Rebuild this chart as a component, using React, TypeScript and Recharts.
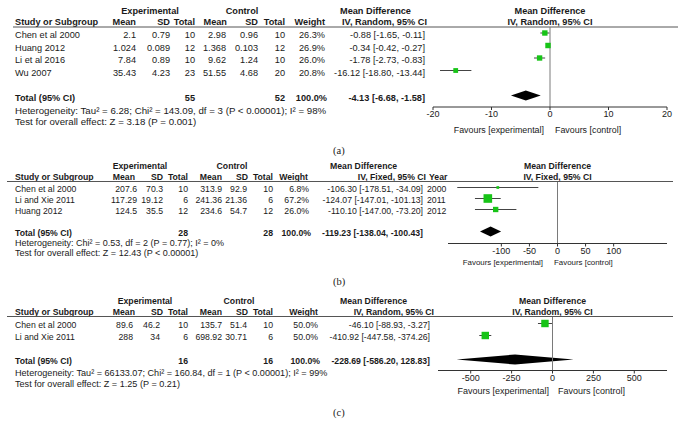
import React from "react";
import {
  ScatterChart,
  Scatter,
  XAxis,
  YAxis,
  ErrorBar,
  ReferenceLine,
  ReferenceArea,
} from "recharts";

const FONT = "'Liberation Sans', Arial, Helvetica, sans-serif";
const SERIF = "'Liberation Serif', 'Times New Roman', serif";
const GREEN = "#17c417";

// ---- panel (a) ----
const studiesA = ["Chen et al 2000", "Huang 2012", "Li et al 2016", "Wu 2007"];
const expMeanA = ["2.1", "1.024", "7.84", "35.43"];
const expSdA = ["0.79", "0.089", "0.89", "4.23"];
const expNA = [10, 12, 10, 23];
const ctlMeanA = ["2.98", "1.368", "9.62", "51.55"];
const ctlSdA = ["0.96", "0.103", "1.24", "4.68"];
const ctlNA = [10, 12, 10, 20];
const weightA = [26.3, 26.9, 26.0, 20.8];
const mdA = [-0.88, -0.34, -1.78, -16.12];
const loA = [-1.65, -0.42, -2.73, -18.8];
const hiA = [-0.11, -0.27, -0.83, -13.44];
const totalA = [-4.13, -6.68, -1.58];
const totalNA = [55, 52];
const hetA = "Heterogeneity: Tau² = 6.28; Chi² = 143.09, df = 3 (P < 0.00001); I² = 98%";
const testA = "Test for overall effect: Z = 3.18 (P = 0.001)";
const ticksA = [-20, -10, 0, 10, 20];

// ---- panel (b) ----
const studiesB = ["Chen et al 2000", "Li and Xie 2011", "Huang 2012"];
const expMeanB = ["207.6", "117.29", "124.5"];
const expSdB = ["70.3", "19.12", "35.5"];
const expNB = [10, 6, 12];
const ctlMeanB = ["313.9", "241.36", "234.6"];
const ctlSdB = ["92.9", "21.36", "54.7"];
const ctlNB = [10, 6, 12];
const weightB = [6.8, 67.2, 26.0];
const mdB = [-106.3, -124.07, -110.1];
const loB = [-178.51, -147.01, -147.0];
const hiB = [-34.09, -101.13, -73.2];
const yearsB = ["2000", "2011", "2012"];
const totalB = [-119.23, -138.04, -100.43];
const totalNB = [28, 28];
const hetB = "Heterogeneity: Chi² = 0.53, df = 2 (P = 0.77); I² = 0%";
const testB = "Test for overall effect: Z = 12.43 (P < 0.00001)";
const ticksB = [-100, -50, 0, 50, 100];

// ---- panel (c) ----
const studiesC = ["Chen et al 2000", "Li and Xie 2011"];
const expMeanC = ["89.6", "288"];
const expSdC = ["46.2", "34"];
const expNC = [10, 6];
const ctlMeanC = ["135.7", "698.92"];
const ctlSdC = ["51.4", "30.71"];
const ctlNC = [10, 6];
const weightC = [50.0, 50.0];
const mdC = [-46.1, -410.92];
const loC = [-88.93, -447.58];
const hiC = [-3.27, -374.26];
const totalC = [-228.69, -586.2, 128.83];
const totalNC = [16, 16];
const hetC = "Heterogeneity: Tau² = 66133.07; Chi² = 160.84, df = 1 (P < 0.00001); I² = 99%";
const testC = "Test for overall effect: Z = 1.25 (P = 0.21)";
const ticksC = [-500, -250, 0, 250, 500];

const panels = [
  {
    label: "(a)", labelY: 150, fs: 9.2, noteFs: 9.7, favFs: 8.9,
    line: 27, lineX: [13, 678], row0: 33, step: 12.5, totalRow: 5,
    hetY: 110, testY: 121, favY: 130, favExpEnd: 544, favCtlStart: 555,
    cols: [136, 170, 195, 226, 258, 285, 325, 425],
    heads: [136, 170, 195, 227, 258, 285, 325],
    expCenter: 150, ctlCenter: 242, mdHeadX: 340, ivEnd: 427,
    method: "IV, Random, 95% CI",
    plot: { left: 433, right: 667, axisY: 107, domain: [-20, 20], ticks: ticksA },
    studies: studiesA, expMean: expMeanA, expSd: expSdA, expN: expNA,
    ctlMean: ctlMeanA, ctlSd: ctlSdA, ctlN: ctlNA, weight: weightA,
    md: mdA, lo: loA, hi: hiA, total: totalA, totalN: totalNA,
    het: hetA, test: testA, years: null as string[] | null,
  },
  {
    label: "(b)", labelY: 281, fs: 8.7, noteFs: 9.0, favFs: 7.9,
    line: 181.5, lineX: [7, 673], row0: 187, step: 11, totalRow: 4,
    hetY: 243, testY: 253, favY: 262, favExpEnd: 543, favCtlStart: 554,
    cols: [137, 163, 188, 222, 247, 273, 309, 423],
    heads: [135, 163, 188, 222, 248, 273, 308],
    expCenter: 140, ctlCenter: 232, mdHeadX: 330, ivEnd: 426,
    method: "IV, Fixed, 95% CI",
    plot: { left: 448, right: 667, axisY: 243, domain: [-195, 195], ticks: ticksB },
    studies: studiesB, expMean: expMeanB, expSd: expSdB, expN: expNB,
    ctlMean: ctlMeanB, ctlSd: ctlSdB, ctlN: ctlNB, weight: weightB,
    md: mdB, lo: loB, hi: hiB, total: totalB, totalN: totalNB,
    het: hetB, test: testB, years: yearsB as string[] | null,
  },
  {
    label: "(c)", labelY: 412, fs: 8.7, noteFs: 9.1, favFs: 9,
    line: 316.5, lineX: [7, 673], row0: 323, step: 12, totalRow: 3,
    hetY: 373, testY: 384, favY: 391, favExpEnd: 549, favCtlStart: 558,
    cols: [133, 160, 188, 222, 247, 273, 318, 430],
    heads: [135, 163, 188, 222, 248, 273, 318],
    expCenter: 145, ctlCenter: 239, mdHeadX: 340, ivEnd: 434,
    method: "IV, Random, 95% CI",
    plot: { left: 438, right: 667, axisY: 370, domain: [-700, 700], ticks: ticksC },
    studies: studiesC, expMean: expMeanC, expSd: expSdC, expN: expNC,
    ctlMean: ctlMeanC, ctlSd: ctlSdC, ctlN: ctlNC, weight: weightC,
    md: mdC, lo: loC, hi: hiC, total: totalC, totalN: totalNC,
    het: hetC, test: testC, years: null as string[] | null,
  },
];

type Panel = (typeof panels)[number];

const ci = (m: number, l: number, h: number) =>
  `${m.toFixed(2)} [${l.toFixed(2)}, ${h.toFixed(2)}]`;

const Box = (p: any) => {
  const s = p.payload.side;
  return <rect x={p.cx - s / 2} y={p.cy - s / 2} width={s} height={s} fill={GREEN} />;
};

const Diamond = (p: any) => {
  const x = Math.min(p.x, p.x + p.width);
  const y = Math.min(p.y, p.y + p.height);
  const w = Math.abs(p.width);
  const h = Math.abs(p.height);
  const pts = `${x},${y + h / 2} ${x + w / 2},${y} ${x + w},${y + h / 2} ${x + w / 2},${y + h}`;
  return <polygon points={pts} fill="#000" />;
};

function Table({ p }: { p: Panel }) {
  const t = (x: number, y: number, s: string, anchor = "end", bold = false, fs = p.fs) => (
    <text
      x={x}
      y={y}
      textAnchor={anchor as any}
      dominantBaseline="central"
      fontSize={fs}
      fontWeight={bold ? "bold" : "normal"}
      fill="#1a1a1a"
    >
      {s}
    </text>
  );
  const h1 = p.line - 16;
  const h2 = p.line - 5;
  const zero = (p.plot.left + p.plot.right) / 2;
  const [c0, c1, c2, c3, c4, c5, c6, c7] = p.cols;
  const hd = p.heads;
  const totY = p.row0 + p.step * p.totalRow + 2;
  return (
    <g fontFamily={FONT}>
      {t(p.expCenter, h1, "Experimental", "middle", true)}
      {t(p.ctlCenter, h1, "Control", "middle", true)}
      {t(p.mdHeadX, h1, "Mean Difference", "start", true)}
      {t(zero, h1, "Mean Difference", "middle", true)}
      {t(15, h2, "Study or Subgroup", "start", true)}
      {t(hd[0], h2, "Mean", "end", true)}
      {t(hd[1], h2, "SD", "end", true)}
      {t(hd[2], h2, "Total", "end", true)}
      {t(hd[3], h2, "Mean", "end", true)}
      {t(hd[4], h2, "SD", "end", true)}
      {t(hd[5], h2, "Total", "end", true)}
      {t(hd[6], h2, "Weight", "end", true)}
      {t(p.ivEnd, h2, p.method, "end", true)}
      {p.years && t(p.ivEnd + 3, h2, "Year", "start", true)}
      {t(zero, h2, p.method, "middle", true)}
      <line x1={p.lineX[0]} x2={p.lineX[1]} y1={p.line} y2={p.line} stroke="#555" strokeWidth={1} />
      {p.studies.map((s, i) => {
        const y = p.row0 + p.step * i + 2;
        return (
          <g key={s}>
            {t(15, y, s, "start")}
            {t(c0, y, p.expMean[i])}
            {t(c1, y, p.expSd[i])}
            {t(c2, y, String(p.expN[i]))}
            {t(c3, y, p.ctlMean[i])}
            {t(c4, y, p.ctlSd[i])}
            {t(c5, y, String(p.ctlN[i]))}
            {t(c6, y, `${p.weight[i].toFixed(1)}%`)}
            {t(c7, y, ci(p.md[i], p.lo[i], p.hi[i]))}
            {p.years && t(c7 + 4, y, p.years[i], "start")}
          </g>
        );
      })}
      {t(15, totY, "Total (95% CI)", "start", true)}
      {t(c2, totY, String(p.totalN[0]), "end", true)}
      {t(c5, totY, String(p.totalN[1]), "end", true)}
      {t(c6 + 2, totY, "100.0%", "end", true)}
      {t(c7, totY, ci(p.total[0], p.total[1], p.total[2]), "end", true)}
      {t(15, p.hetY, p.het, "start", false, p.noteFs)}
      {t(15, p.testY, p.test, "start", false, p.noteFs)}
      {t(p.favExpEnd, p.favY, "Favours [experimental]", "end", false, p.favFs)}
      {t(p.favCtlStart, p.favY, "Favours [control]", "start", false, p.favFs)}
      <text x={333} y={p.labelY} dominantBaseline="central" fontFamily={SERIF} fontSize={10.5} fill="#1a1a1a">
        {p.label}
      </text>
    </g>
  );
}

const PAD = 26;
const PAD_TOP = 4;
const AXIS_H = 24;

function Forest({ p }: { p: Panel }) {
  const { left, right, axisY, domain, ticks } = p.plot;
  const plotH = axisY - p.line;
  const width = right - left + 2 * PAD;
  const height = plotH + PAD_TOP + AXIS_H;
  const yDomain = [(p.line - p.row0) / p.step, (axisY - p.row0) / p.step];
  const dh = 5 / p.step;
  const data = p.md.map((m, i) => ({
    md: m,
    row: i,
    err: [m - p.lo[i], p.hi[i] - m],
    side: 1.05 * Math.sqrt(p.weight[i]),
  }));
  return (
    <div style={{ position: "absolute", left: left - PAD, top: p.line - PAD_TOP }}>
      <ScatterChart
        width={width}
        height={height}
        margin={{ top: PAD_TOP, right: PAD, bottom: 0, left: PAD }}
      >
        <XAxis
          type="number"
          dataKey="md"
          domain={domain}
          ticks={ticks}
          interval={0}
          allowDataOverflow
          height={AXIS_H}
          tickSize={3}
          tickMargin={1}
          stroke="#333"
          tick={{ fontSize: 9, fill: "#1a1a1a", fontFamily: FONT }}
        />
        <YAxis type="number" dataKey="row" domain={yDomain} reversed hide allowDataOverflow />
        <ReferenceLine x={0} stroke="#7a7a7a" strokeWidth={1} />
        <ReferenceArea
          x1={p.total[1]}
          x2={p.total[2]}
          y1={p.totalRow - dh}
          y2={p.totalRow + dh}
          shape={Diamond}
        />
        <Scatter data={data} isAnimationActive={false} shape={Box}>
          <ErrorBar dataKey="err" direction="x" width={0} stroke="#444" strokeWidth={1} />
        </Scatter>
      </ScatterChart>
    </div>
  );
}

export default function App() {
  return (
    <div
      style={{
        position: "absolute",
        left: 0,
        top: 0,
        width: 682,
        height: 432,
        background: "#fff",
        overflow: "hidden",
      }}
    >
      <svg width={682} height={432} style={{ position: "absolute", left: 0, top: 0 }}>
        {panels.map((p) => (
          <Table key={p.label} p={p} />
        ))}
      </svg>
      {panels.map((p) => (
        <Forest key={p.label} p={p} />
      ))}
    </div>
  );
}
